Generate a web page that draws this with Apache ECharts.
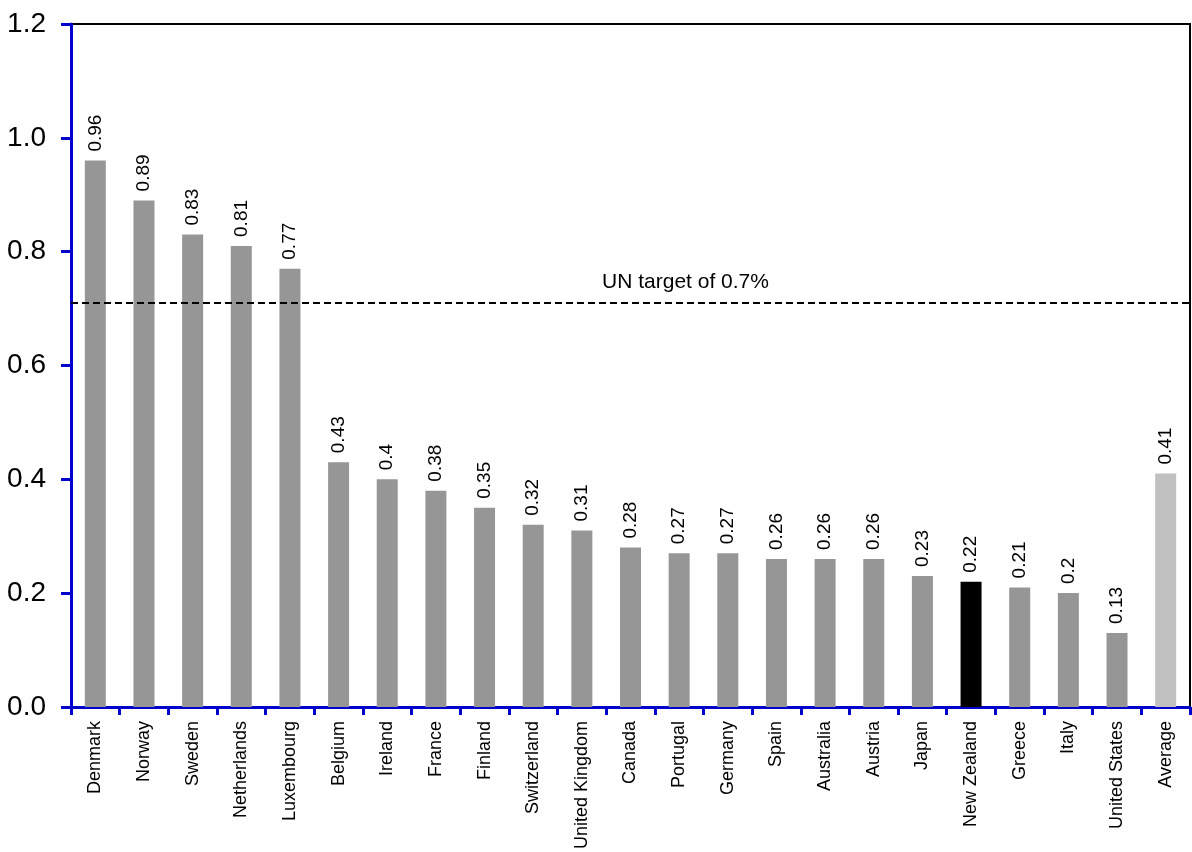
<!DOCTYPE html>
<html>
<head>
<meta charset="utf-8">
<script src="https://cdn.jsdelivr.net/npm/echarts@6/dist/echarts.min.js"></script>
<style>html,body{margin:0;padding:0;background:#fff;}#c{width:1192px;height:852px;}</style>
</head>
<body>
<div id="c"></div>
<script>
const categories = ["Denmark","Norway","Sweden","Netherlands","Luxembourg","Belgium","Ireland","France","Finland","Switzerland","United Kingdom","Canada","Portugal","Germany","Spain","Australia","Austria","Japan","New Zealand","Greece","Italy","United States","Average"];
const values = [0.96,0.89,0.83,0.81,0.77,0.43,0.4,0.38,0.35,0.32,0.31,0.28,0.27,0.27,0.26,0.26,0.26,0.23,0.22,0.21,0.2,0.13,0.41];
const targetValue = 0.71;
const targetLabel = "UN target of 0.7%";
const yTicks = [0, 0.2, 0.4, 0.6, 0.8, 1.0, 1.2];

const NARROW = '"Liberation Sans Narrow", "Arial Narrow", "Liberation Sans", Arial, sans-serif';
const barColor = c => c === "New Zealand" ? "#000000" : (c === "Average" ? "#c0c0c0" : "#969696");

const chart = echarts.init(document.getElementById('c'));
chart.setOption({
  animation: false,
  grid: { left: 71, top: 24, right: 2, bottom: 145, show: true, borderColor: '#000000', borderWidth: 2, backgroundColor: 'transparent' },
  xAxis: {
    type: 'category',
    data: categories,
    boundaryGap: true,
    axisLine: { lineStyle: { color: '#0000cc', width: 3 } },
    axisTick: { show: true, alignWithLabel: false, length: 8, lineStyle: { color: '#0000cc', width: 3 } },
    axisLabel: { rotate: 90, interval: 0, margin: 14, fontFamily: '"Liberation Sans", Arial, sans-serif', fontSize: 18, color: '#000' }
  },
  yAxis: {
    type: 'value',
    min: yTicks[0], max: yTicks[yTicks.length - 1], interval: 0.2,
    splitLine: { show: false },
    axisLine: { show: true, lineStyle: { color: '#0000cc', width: 3 } },
    axisTick: { show: true, length: 10, lineStyle: { color: '#0000cc', width: 3 } },
    axisLabel: { margin: 25, fontFamily: NARROW, fontSize: 28, color: '#000', formatter: v => v.toFixed(1) }
  },
  series: [{
    type: 'bar',
    barWidth: 21,
    data: categories.map((c, i) => ({ value: values[i], itemStyle: { color: barColor(c) } })),
    label: {
      show: true, position: 'top', rotate: 90, align: 'left', verticalAlign: 'middle', distance: 9,
      fontFamily: NARROW, fontSize: 19, color: '#000',
      formatter: p => String(p.value)
    },
    markLine: {
      silent: true,
      symbol: 'none',
      lineStyle: { color: '#000', type: [7, 4], width: 2 },
      label: { show: true, position: 'insideMiddleTop', formatter: targetLabel, fontFamily: NARROW, fontSize: 21, color: '#000', distance: 10, offset: [55, 0] },
      data: [{ yAxis: targetValue }]
    }
  }]
});
</script>
</body>
</html>
